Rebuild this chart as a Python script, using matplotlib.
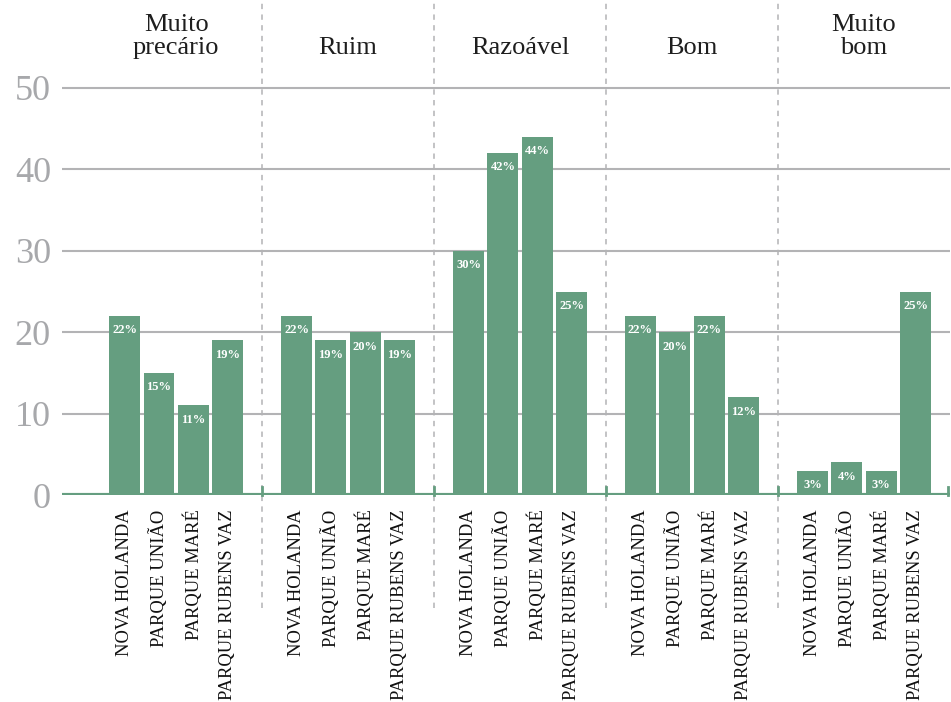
import matplotlib
matplotlib.use("Agg")
import matplotlib.pyplot as plt
import numpy as np

groups = ["Muito\nprecário", "Ruim", "Razoável", "Bom", "Muito\nbom"]
neighborhoods = ["NOVA HOLANDA", "PARQUE UNIÃO", "PARQUE MARÉ", "PARQUE RUBENS VAZ"]
values = [
    [22, 15, 11, 19],
    [22, 19, 20, 19],
    [30, 42, 44, 25],
    [22, 20, 22, 12],
    [3, 4, 3, 25],
]
yticks = [0, 10, 20, 30, 40, 50]

GREEN = "#659e80"
GRID = "#b3b3b5"
TICKGRAY = "#a7a8ab"

fig = plt.figure(figsize=(9.51, 7.02), dpi=100)
W, H = 951, 702
y0_pix = 495
px_per_unit = 8.14
ytop = 53
ax = fig.add_axes([62 / W, (H - y0_pix) / H, (950 - 62) / W, ytop * px_per_unit / H])
ax.set_xlim(-1.82, 24.0)
ax.set_ylim(0, ytop)
for s in ax.spines.values():
    s.set_visible(False)

serif = ["Liberation Serif", "DejaVu Serif"]

positions = []
labels = []
for g, vals in enumerate(values):
    xs = [g * 5 + j for j in range(4)]
    positions += xs
    labels += neighborhoods
    ax.bar(xs, vals, width=0.9, color=GREEN, zorder=2)
    for x, v in zip(xs, vals):
        ax.annotate(f"{v}%", (x, v), xytext=(0, -6), textcoords="offset points",
                    ha="center", va="top", color="white", fontsize=9,
                    fontweight="bold", family=serif, zorder=3)
    # group header
    ax.text(g * 5 + 1.5, 53.6, groups[g], ha="center", va="bottom",
            fontsize=19, family=serif, color="#1e1e1e", linespacing=1.05)

# grid lines
for t in yticks[1:]:
    ax.axhline(t, color=GRID, lw=1.5, zorder=1)
ax.axhline(0, color=GREEN, lw=3, zorder=3)

# separators
for g in range(4):
    xs = g * 5 + 4
    ax.plot([xs, xs], [-13.9, 60.8], clip_on=False, ls=(0, (3.5, 3.5)),
            color=GRID, lw=1.1, zorder=0)
for g in range(5):
    xs = g * 5 + 4 if g < 4 else 23.93
    ax.plot([xs, xs], [0, 1.0], color=GREEN, lw=2, zorder=3, clip_on=False)

ax.set_yticks(yticks)
ax.set_yticklabels([str(t) for t in yticks], fontsize=26, family=serif, color=TICKGRAY)
ax.tick_params(axis="y", length=0, pad=8)
ax.set_xticks(positions)
ax.set_xticklabels(labels, rotation=90, fontsize=13.3, family=serif, color="#111111")
ax.tick_params(axis="x", length=0, pad=10.5)

fig.savefig("out.png", dpi=100)
